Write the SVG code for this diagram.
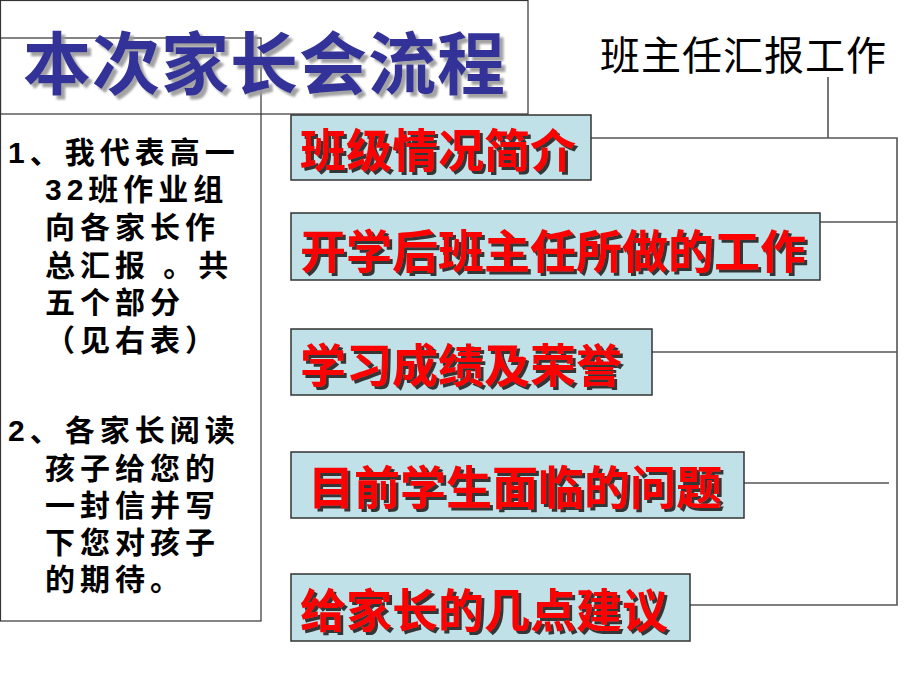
<svg xmlns="http://www.w3.org/2000/svg" width="920" height="690" viewBox="0 0 920 690">
<defs>
<filter id="shRed" x="-5%" y="-20%" width="115%" height="150%">
<feDropShadow dx="3" dy="3" stdDeviation="0.6" flood-color="#222" flood-opacity="0.9"/>
</filter>
<filter id="shBlue" x="-5%" y="-20%" width="115%" height="150%">
<feDropShadow dx="4" dy="4" stdDeviation="0.8" flood-color="#999" flood-opacity="0.9"/>
</filter>
</defs>
<style>
.frame{fill:none;stroke:#333;stroke-width:1.2}
.box{fill:#bfe1e7;stroke:#333;stroke-width:1.5}
.lbl{font-family:"Noto Sans CJK SC",sans-serif;font-size:46px;font-weight:bold;fill:#ff0000;filter:url(#shRed)}
.title{font-family:"Noto Sans CJK SC",sans-serif;font-size:68px;font-weight:bold;fill:#333399;filter:url(#shBlue)}
.head{font-family:"Noto Sans CJK SC",sans-serif;font-size:40px;fill:#000}
.note{font-family:"Liberation Sans","Noto Sans CJK SC",sans-serif;font-size:30px;font-weight:bold;fill:#000;letter-spacing:5px}
.con{fill:none;stroke:#555;stroke-width:1.6}
</style>
<rect width="920" height="690" fill="#fff"/>
<g id="title-frame">
<rect class="frame" x="0.5" y="0.5" width="527.5" height="113.5"/>
</g>
<g id="notes">
<rect class="frame" x="0.5" y="38" width="260.5" height="583"/>
<text class="note" x="8" y="163">1、我代表高一</text>
<text class="note" x="45" y="200">32班作业组</text>
<text class="note" x="45" y="238">向各家长作</text>
<text class="note" x="45" y="276">总汇报 。共</text>
<text class="note" x="45" y="313">五个部分</text>
<text class="note" x="45" y="351">（见右表）</text>
<text class="note" x="8" y="441">2、各家长阅读</text>
<text class="note" x="45" y="479">孩子给您的</text>
<text class="note" x="45" y="516">一封信并写</text>
<text class="note" x="45" y="553">下您对孩子</text>
<text class="note" x="45" y="590">的期待。</text>
</g>
<g id="title">
<text class="title" x="23" y="89" letter-spacing="1">本次家长会流程</text>
</g>
<g id="connectors">
<path class="con" d="M828,77 V138"/>
<path class="con" d="M591,138 H897 V605 H690"/>
<path class="con" d="M820,222 H897"/>
<path class="con" d="M652,352 H897"/>
<path class="con" d="M744,483 H889"/>
</g>
<g id="head">
<text class="head" x="600" y="70" letter-spacing="1">班主任汇报工作</text>
</g>
<g id="item1">
<rect class="box" x="291" y="115" width="300" height="65"/>
<text class="lbl" x="300" y="167">班级情况简介</text>
</g>
<g id="item2">
<rect class="box" x="291" y="213" width="529" height="67"/>
<text class="lbl" x="300" y="268">开学后班主任所做的工作</text>
</g>
<g id="item3">
<rect class="box" x="291" y="329" width="361" height="66"/>
<text class="lbl" x="300" y="382">学习成绩及荣誉</text>
</g>
<g id="item4">
<rect class="box" x="291" y="452" width="453" height="66"/>
<text class="lbl" x="308" y="504">目前学生面临的问题</text>
</g>
<g id="item5">
<rect class="box" x="291" y="574" width="399" height="67"/>
<text class="lbl" x="300" y="627">给家长的几点建议</text>
</g>
</svg>
